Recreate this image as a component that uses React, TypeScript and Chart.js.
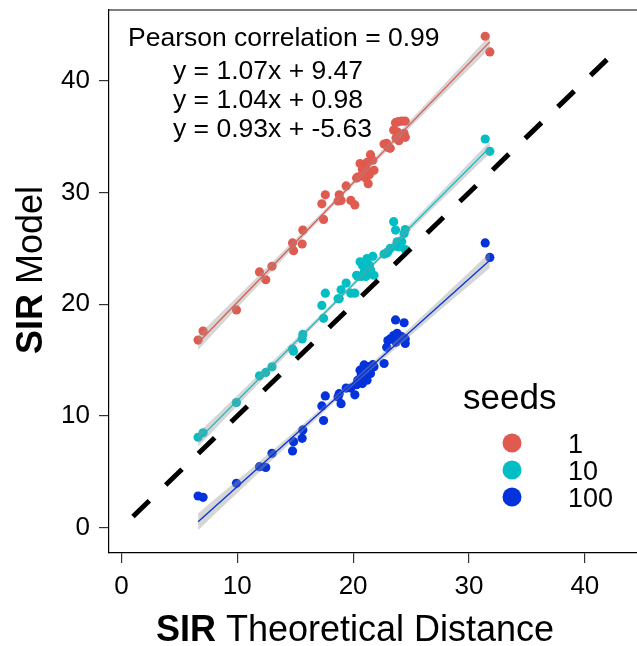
import React, { useEffect, useRef } from 'react';
import { Chart, registerables } from 'chart.js';

Chart.register(...registerables);

// ---------------- data ----------------
const seedLabels = ['1', '10', '100'];
const seedColors = ['#E05A4F', '#00BEC4', '#0433DB'];

const theoreticalDistance = [
  6.62, 7.05, 9.93, 11.92, 12.46, 13.0, 14.77, 14.86, 15.6, 15.66,
  17.3, 17.45, 17.6, 18.7, 18.8, 18.96, 19.4, 19.8, 20.15, 20.3,
  20.4, 20.6, 20.7, 20.8, 20.95, 21.1, 21.1, 21.2, 21.3, 21.4,
  21.5, 21.7, 21.8, 22.67, 22.9, 23.0, 23.2, 23.5, 23.66, 23.7,
  23.8, 23.9, 23.95, 24.2, 24.4, 24.5, 24.5, 31.4, 31.8,
];

const modelSeeds1 = [
  16.8, 17.6, 19.5, 22.9, 22.2, 23.4, 25.5, 24.8, 25.4, 26.65,
  29.0, 27.6, 29.8, 29.25, 29.8, 29.3, 30.6, 29.3, 28.9, 31.3,
  31.4, 32.6, 31.5, 32.1, 31.7, 31.3, 32.2, 32.7, 30.8, 31.6,
  33.4, 32.9, 32.0, 34.35, 34.4, 34.05, 33.97, 35.6, 36.26, 34.9,
  35.45, 36.35, 34.65, 36.4, 35.3, 36.4, 34.95, 44.0, 42.6,
];

const modelSeeds10 = [
  8.1, 8.5, 11.2, 13.6, 13.9, 14.4, 16.0, 15.8, 16.9, 17.3,
  19.9, 18.75, 21.0, 20.5, 20.5, 21.3, 21.9, 21.0, 21.0, 22.6,
  22.5, 23.8, 22.5, 23.5, 22.9, 22.5, 23.3, 24.1, 22.7, 23.5,
  23.1, 24.3, 22.6, 24.5, 24.6, 24.7, 25.0, 27.4, 26.65, 25.2,
  25.6, 25.4, 25.15, 25.6, 26.35, 26.7, 24.9, 34.8, 33.7,
];

const modelSeeds100 = [
  2.84, 2.72, 3.97, 5.46, 5.4, 6.66, 6.87, 7.7, 8.0, 8.75,
  10.9, 9.6, 11.8, 11.7, 12.0, 11.1, 12.5, 12.5, 11.9, 12.8,
  13.2, 14.1, 13.67, 12.9, 14.57, 13.97, 14.2, 13.2, 14.4, 14.4,
  13.8, 14.6, 14.4, 14.7, 16.15, 16.75, 16.9, 17.2, 18.6, 16.6,
  17.4, 17.1, 16.9, 17.1, 18.35, 16.9, 16.5, 25.5, 24.2,
];

const slopes = [1.07, 1.04, 0.93];
const intercepts = [9.47, 0.98, -5.63];
const pearson = '0.99';

// confidence band half-widths at these x positions
const bandX = [6.62, 13, 19.5, 26, 31.8];
const bandHalf1 = [0.65, 0.38, 0.22, 0.35, 0.6];
const bandHalf10 = [0.6, 0.35, 0.2, 0.33, 0.55];
const bandHalf100 = [0.75, 0.42, 0.25, 0.42, 0.7];

const identityFrom = 1;
const identityTo = 42.2;

const xTicks = [0, 10, 20, 30, 40];
const yTicks = [0, 10, 20, 30, 40];

const FONT = "'Liberation Sans', Arial, Helvetica, sans-serif";
const CANVAS_W = 660; // panel continues past the right edge of the 637px view
const CANVAS_H = 646;

export default function App() {
  const ref = useRef<HTMLCanvasElement>(null);

  useEffect(() => {
    const canvas = ref.current!;
    const seriesY = [modelSeeds1, modelSeeds10, modelSeeds100];
    const bandHalf = [bandHalf1, bandHalf10, bandHalf100];
    const xMin = Math.min(...theoreticalDistance);
    const xMax = Math.max(...theoreticalDistance);

    const datasets: any[] = [];
    seriesY.forEach((ys, k) => {
      datasets.push({
        type: 'scatter',
        label: seedLabels[k],
        data: theoreticalDistance.map((x, i) => ({ x, y: ys[i] })),
        backgroundColor: seedColors[k],
        borderColor: seedColors[k],
        borderWidth: 0,
        pointRadius: 4.6,
        order: 40,
      });
    });
    seriesY.forEach((_, k) => {
      datasets.push({
        type: 'line',
        data: bandX.map((x, i) => ({ x, y: slopes[k] * x + intercepts[k] + bandHalf[k][i] })),
        borderColor: 'rgba(0,0,0,0)',
        borderWidth: 0,
        pointRadius: 0,
        tension: 0.3,
        fill: '+1',
        backgroundColor: 'rgba(153,153,153,0.4)',
        order: 30,
      });
      datasets.push({
        type: 'line',
        data: bandX.map((x, i) => ({ x, y: slopes[k] * x + intercepts[k] - bandHalf[k][i] })),
        borderColor: 'rgba(0,0,0,0)',
        borderWidth: 0,
        pointRadius: 0,
        tension: 0.3,
        fill: false,
        order: 30,
      });
    });
    seriesY.forEach((_, k) => {
      datasets.push({
        type: 'line',
        data: [xMin, xMax].map((x) => ({ x, y: slopes[k] * x + intercepts[k] })),
        borderColor: seedColors[k],
        borderWidth: 1.3,
        pointRadius: 0,
        fill: false,
        order: 20,
      });
    });
    datasets.push({
      type: 'line',
      data: [identityFrom, identityTo].map((v) => ({ x: v, y: v })),
      borderColor: '#000',
      borderWidth: 5,
      borderDash: [22.7, 22.7],
      borderCapStyle: 'butt',
      pointRadius: 0,
      fill: false,
      order: 10,
    });

    const decor = {
      id: 'decor',
      afterDraw(chart: any) {
        const { ctx, chartArea } = chart;
        const { left, top, right } = chartArea;
        ctx.save();
        // top frame line
        ctx.strokeStyle = '#000';
        ctx.lineWidth = 1.2;
        ctx.beginPath();
        ctx.moveTo(left, top);
        ctx.lineTo(right, top);
        ctx.stroke();

        ctx.fillStyle = '#000';
        ctx.textAlign = 'left';
        ctx.textBaseline = 'alphabetic';
        ctx.font = `26.5px ${FONT}`;
        ctx.fillText(`Pearson correlation = ${pearson}`, 128, 46);
        const eqBase = [79, 108, 137];
        slopes.forEach((s, k) => {
          ctx.fillText(`y = ${s.toFixed(2)}x + ${intercepts[k].toFixed(2)}`, 173, eqBase[k]);
        });

        // legend
        ctx.font = `35px ${FONT}`;
        ctx.fillText('seeds', 463, 409);
        ctx.font = `27px ${FONT}`;
        seedLabels.forEach((lab, k) => {
          const cy = 443 + 27 * k;
          ctx.fillStyle = seedColors[k];
          ctx.beginPath();
          ctx.arc(512, cy, 9.5, 0, Math.PI * 2);
          ctx.fill();
          ctx.fillStyle = '#000';
          ctx.fillText(lab, 568, cy + 9.5);
        });

        // axis titles with bold "SIR"
        const drawMixed = (rest: string, cx: number, cy: number, rotate: boolean) => {
          ctx.save();
          ctx.translate(cx, cy);
          if (rotate) ctx.rotate(-Math.PI / 2);
          ctx.font = `bold 36px ${FONT}`;
          const wb = ctx.measureText('SIR').width;
          ctx.font = `36px ${FONT}`;
          const wr = ctx.measureText(rest).width;
          const x0 = -(wb + wr) / 2;
          ctx.fillStyle = '#000';
          ctx.textAlign = 'left';
          ctx.font = `bold 36px ${FONT}`;
          ctx.fillText('SIR', x0, 0);
          ctx.font = `36px ${FONT}`;
          ctx.fillText(rest, x0 + wb, 0);
          ctx.restore();
        };
        drawMixed(' Theoretical Distance', 355, 641, false);
        drawMixed(' Model', 42, 270, true);
        ctx.restore();
      },
    };

    const tickFont = { family: FONT, size: 26 };
    const chart = new Chart(canvas, {
      type: 'scatter',
      data: { datasets },
      options: {
        animation: false,
        responsive: false,
        devicePixelRatio: 1,
        layout: { padding: { top: 10, right: 0, left: 0, bottom: 0 } },
        plugins: { legend: { display: false }, tooltip: { enabled: false } },
        scales: {
          x: {
            type: 'linear',
            min: -1.07,
            max: 46.09,
            afterBuildTicks: (s: any) => { s.ticks = xTicks.map((v) => ({ value: v })); },
            afterFit: (s: any) => { s.height = 93; s.paddingLeft = 0; s.paddingRight = 0; s.paddingTop = 0; s.paddingBottom = 0; },
            ticks: { font: tickFont, color: '#000', padding: 8, maxRotation: 0, autoSkip: false },
            grid: { drawOnChartArea: false, drawTicks: true, tickLength: 10, color: '#333', lineWidth: 1.2 },
            border: { display: true, color: '#000', width: 1.2 },
          },
          y: {
            type: 'linear',
            min: -2.265,
            max: 46.35,
            afterBuildTicks: (s: any) => { s.ticks = yTicks.map((v) => ({ value: v })); },
            afterFit: (s: any) => { s.width = 109; s.paddingTop = 0; s.paddingBottom = 0; s.paddingLeft = 0; s.paddingRight = 0; },
            ticks: { font: tickFont, color: '#000', padding: 9, autoSkip: false },
            grid: { drawOnChartArea: false, drawTicks: true, tickLength: 10, color: '#333', lineWidth: 1.2 },
            border: { display: true, color: '#000', width: 1.2 },
          },
        },
      } as any,
      plugins: [decor],
    });
    return () => chart.destroy();
  }, []);

  return (
    <div style={{ position: 'absolute', left: 0, top: 0, width: 637, height: CANVAS_H, overflow: 'hidden', background: '#fff' }}>
      <canvas ref={ref} width={CANVAS_W} height={CANVAS_H} style={{ display: 'block', width: CANVAS_W, height: CANVAS_H }} />
    </div>
  );
}
